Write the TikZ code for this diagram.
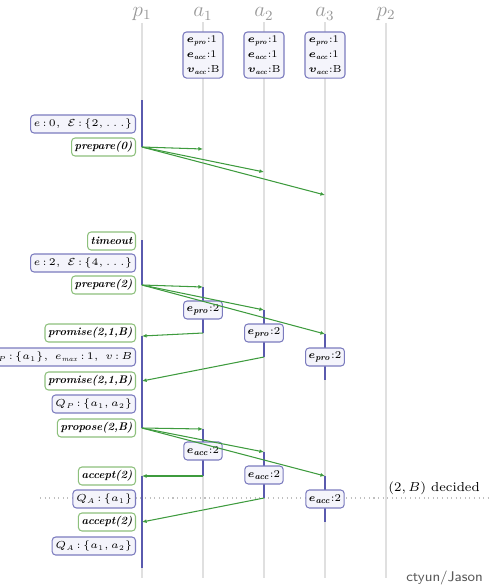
\documentclass[tikz,border=0pt]{standalone}
\usepackage{fix-cm}
\usepackage{amsmath,amssymb}
\usetikzlibrary{arrows.meta,positioning}
\definecolor{ink}{HTML}{5A5AAE}
\definecolor{pale}{HTML}{F4F4FB}
\definecolor{leaf}{HTML}{8DC07C}
\definecolor{wire}{HTML}{3E9B3E}
\newcommand{\cl}{\mskip2.5mu{:}\mskip2.5mu}
\begin{document}
\begin{tikzpicture}[x=0.02cm,y=-0.02cm,
 life/.style={draw=black!12,line width=0.9pt},
 act/.style={draw=ink,line width=1pt},
 sbox/.style={draw=ink!80,rounded corners=2pt,fill=pale,line width=0.6pt,inner sep=1.8pt,
 minimum height=0.36cm,font=\fontsize{5.8}{7}\selectfont},
 mbox/.style={draw=leaf,rounded corners=2pt,fill=white,line width=0.6pt,inner sep=1.8pt,
 minimum height=0.36cm,font=\fontsize{6.3}{7}\selectfont\bfseries\itshape},
 msg/.style={->,draw=wire,line width=0.6pt}, >={Latex[length=2.6pt,width=2.2pt]}]
\useasboundingbox (0,0) rectangle (490,586);
\foreach \n/\x/\t in {p1/142/p_1,a1/203/a_1,a2/264/a_2,a3/325/a_3,p2/386/p_2}{
 \node[text=black!40,font=\large,inner sep=1pt] (\n) at (\x,14) {$\t$};
 \coordinate (\n e) at (\x,578);
 \draw[life] (\n.south) -- (\n e);}
\draw[black!25,dotted,line width=0.6pt] (40,498) coordinate (d0) -- (490,498) coordinate (d1);
\node[font=\fontsize{7.4}{8}\selectfont,anchor=east] (dec) at (486,488) {$(2,B)$ decided};
\node[font=\sffamily\fontsize{8}{9}\selectfont,text=black!65,anchor=east] (mark) at (489,578) {ctyun/Jason};
\foreach \n/\x/\y in {s0/142/147,r01/203/149,r02/264/172,r03/325/195,
 s1/142/285,r11/203/287,r12/264/310,r13/325/334,u11/203/333,v11/142/336,u12/264/357,v12/142/381,u13/325/380,
 s2/142/428,r21/203/429,r22/264/452,r23/325/476,u21/203/476,v21/142/476,u22/264/498,v22/142/522,u23/325/522}
 \coordinate (\n) at (\x,\y);
\coordinate (b0) at (142,100);
\coordinate (b1) at (142,240);
\coordinate (b2) at (142,568);
\draw[act] (b0) -- (s0);
\draw[act] (b1) -- (s1);
\draw[act] (v11) -- (s2);
\draw[act] (v21) -- (b2);
\foreach \x/\y in {r11/u11,r12/u12,r13/u13,r21/u21,r22/u22,r23/u23} \draw[act] (\x)--(\y);
\foreach \n/\x in {i1/203,i2/264,i3/325}
 \node[sbox,align=left,font=\fontsize{5.8}{8.6}\selectfont\boldmath,inner sep=2pt] (\n) at (\x,55)
 {$e_{\mathit{pro}}$:1\\$e_{\mathit{acc}}$:1\\$v_{\mathit{acc}}$:B};
\foreach \n/\x/\y in {k1/203/310,k2/264/333,k3/325/357}
 \node[sbox,font=\fontsize{6}{7}\selectfont\boldmath] (\n) at (\x,\y) {$e_{\mathit{pro}}$:2};
\foreach \n/\x/\y in {c1/203/451,c2/264/475,c3/325/499}
 \node[sbox,font=\fontsize{6}{7}\selectfont\boldmath] (\n) at (\x,\y) {$e_{\mathit{acc}}$:2};
\foreach \y/\s/\t [count=\i] in {124/sbox/{$e\cl 0,\ \mathcal{E}\cl\{2,\ldots\}$},147/mbox/{prepare(0)},
 241/mbox/{timeout},263/sbox/{$e\cl 2,\ \mathcal{E}\cl\{4,\ldots\}$},285/mbox/{prepare(2)},
 333/mbox/{promise(2,1,B)},357/sbox/{$Q_P\cl\{a_1\},\ e_{\mathit{max}}\cl 1,\ v\cl B$},381/mbox/{promise(2,1,B)},
 404/sbox/{$Q_P\cl\{a_1,a_2\}$},428/mbox/{propose(2,B)},476/mbox/{accept(2)},
 499/sbox/{$Q_A\cl\{a_1\}$},522/mbox/{accept(2)},546/sbox/{$Q_A\cl\{a_1,a_2\}$}}
 \node[\s,anchor=east] (l\i) at (136,\y) {\t};
\foreach \x/\y in {s0/r01,s0/r02,s0/r03,s1/r11,s1/r12,s1/r13,u11/v11,u12/v12,
 s2/r21,s2/r22,s2/r23,u21/v21,u22/v22} \draw[msg] (\x)--(\y);
\end{tikzpicture}
\end{document}
